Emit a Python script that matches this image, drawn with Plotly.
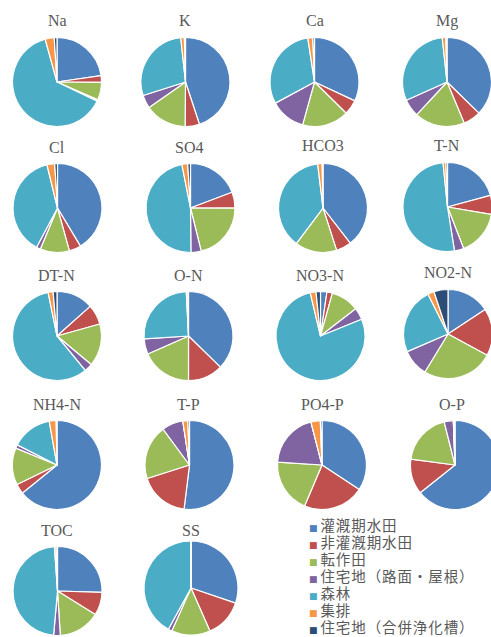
import plotly.graph_objects as go

# Land-use source categories (slice order, clockwise from 12 o'clock)
sources = ["灌漑期水田", "非灌漑期水田", "転作田", "住宅地（路面・屋根）",
           "森林", "集排", "住宅地（合併浄化槽）"]
colors = ["#4F81BD", "#C0504D", "#9BBB59", "#8064A2",
          "#4BACC6", "#F79646", "#2C4D75"]

# Water-quality parameters
parameters = ["Na", "K", "Ca", "Mg", "Cl", "SO4", "HCO3", "T-N", "DT-N",
              "O-N", "NO3-N", "NO2-N", "NH4-N", "T-P", "PO4-P", "O-P",
              "TOC", "SS"]

# Load share (%) of each source, same order as `sources`
na = [22.8, 2.4, 6.5, 0.5, 63.9, 3.3, 1.0]
k = [44.8, 5.2, 15.1, 4.8, 28.1, 1.3, 0.4]
ca = [31.9, 5.4, 16.9, 12.8, 30.4, 1.8, 0.6]
mg = [37.3, 6.4, 18.2, 6.4, 30.0, 1.3, 0.4]
cl = [41.4, 4.3, 10.6, 1.5, 38.4, 2.8, 1.0]
so4 = [19.2, 5.8, 21.0, 3.7, 46.9, 2.1, 1.0]
hco3 = [39.5, 5.5, 15.2, 0.0, 37.8, 1.6, 0.3]
tn = [20.8, 6.9, 16.4, 3.4, 50.9, 1.0, 0.6]
dtn = [13.4, 7.2, 15.4, 3.0, 57.6, 1.8, 1.4]
on = [37.3, 12.7, 18.4, 5.6, 25.2, 0.5, 0.3]
no3n = [2.3, 2.0, 10.2, 4.3, 77.2, 2.1, 1.6]
no2n = [15.7, 17.2, 25.8, 9.8, 24.1, 2.3, 5.1]
nh4n = [64.1, 3.6, 13.4, 1.3, 14.7, 2.5, 0.3]
tp = [51.8, 18.1, 19.7, 7.7, 0.0, 1.8, 0.6]
po4p = [34.2, 22.1, 19.6, 19.9, 0.0, 3.4, 0.6]
op = [64.3, 12.8, 19.0, 3.3, 0.0, 0.3, 0.3]
toc = [25.5, 8.4, 15.1, 2.4, 47.5, 0.6, 0.5]
ss = [30.2, 13.2, 13.3, 1.3, 42.0, 0.0, 0.0]

shares = [na, k, ca, mg, cl, so4, hco3, tn, dtn, on, no3n, no2n,
          nh4n, tp, po4p, op, toc, ss]

# Figure canvas (px); the page clips anything past the window's right edge
W, H = 500, 637

# Pie placement in px: centre x, centre y, radius
pie_boxes = [
    (57, 82, 44.5), (185.5, 82, 44.5), (314.5, 82, 44.5), (447, 82, 44.5),
    (57.5, 208, 44.5), (190.5, 208, 44.5), (323, 208, 44.5), (447.5, 207, 44.5),
    (57, 336, 44.5), (188.5, 336, 44.5), (320.5, 336, 44.5), (448, 334, 44.5),
    (57, 465, 44.5), (189.5, 465, 44.5), (322, 465, 44.5), (455, 465, 44.5),
    (57.5, 591, 44.5), (191, 588, 47),
]
# Title anchors in px
title_pos = [
    (57, 20.5), (185, 20.5), (315, 20.5), (447, 20.5),
    (57.3, 147), (189.3, 147), (322.7, 146), (446.7, 145),
    (56.7, 275.5), (188.3, 275.5), (320, 275.5), (448, 272.5),
    (56.7, 404), (188.3, 404.5), (322.7, 404), (451.7, 404),
    (57.3, 530.5), (190.7, 530.5),
]


def fx(px):
    return px / W


def fy(py):
    return 1 - py / H


fig = go.Figure()
for name, vals, (cx, cy, r) in zip(parameters, shares, pie_boxes):
    fig.add_trace(go.Pie(
        labels=sources,
        values=vals,
        name=name,
        sort=False,
        direction="clockwise",
        rotation=0,
        textinfo="none",
        hovertemplate=name + "<br>%{label}: %{percent}<extra></extra>",
        marker=dict(colors=colors, line=dict(color="white", width=1.2)),
        domain=dict(x=[max(0, fx(cx - r)), min(1, fx(cx + r))],
                    y=[max(0, fy(cy + r)), min(1, fy(cy - r))]),
        showlegend=False,
    ))

annotations = []
for name, (tx, ty) in zip(parameters, title_pos):
    annotations.append(dict(
        x=fx(tx), y=fy(ty), xref="paper", yref="paper",
        text=name, showarrow=False, xanchor="center", yanchor="middle",
        font=dict(family="Liberation Serif", size=16, color="#595959"),
    ))

# Legend: one text block, a coloured square and the source name per row.
# The block's base size sets the row pitch; the spans set glyph sizes.
legend_rows = [
    f"<span style='font-family:DejaVu Sans;font-size:9px;color:{c}'>■</span> "
    f"<span style='font-size:14.5px;letter-spacing:0.9px'>{label}</span>"
    for label, c in zip(sources, colors)
]
annotations.append(dict(
    x=fx(307), y=fy(575), xref="paper", yref="paper",
    text="<br>".join(legend_rows), showarrow=False, align="left",
    xanchor="left", yanchor="middle",
    font=dict(family="Noto Sans CJK JP", size=13.08, color="#595959"),
))

fig.update_layout(
    width=W, height=H,
    margin=dict(l=0, r=0, t=0, b=0),
    paper_bgcolor="white",
    plot_bgcolor="white",
    annotations=annotations,
)

fig.write_html(
    "out.html",
    post_script=("document.documentElement.style.overflow='hidden';"
                 "document.body.style.overflow='hidden';"
                 "document.body.style.margin='0';"),
)
